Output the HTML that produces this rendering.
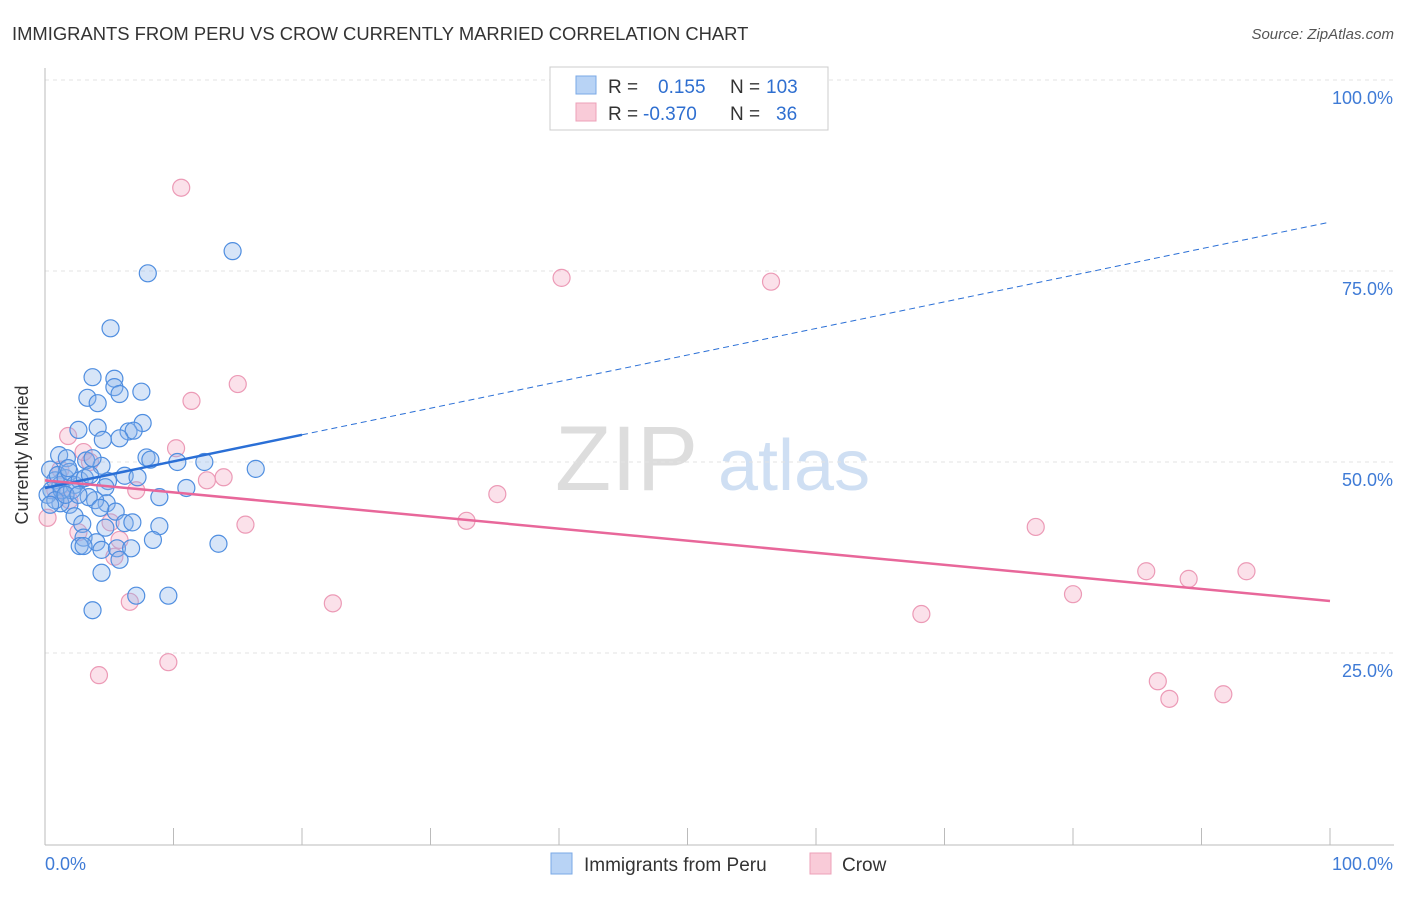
<!DOCTYPE html>
<html><head><meta charset="utf-8"><style>
body{margin:0;background:#fff;font-family:"Liberation Sans",sans-serif;}
svg text{font-family:"Liberation Sans",sans-serif;}
</style></head><body>
<svg id="chart" width="1406" height="892">
<text x="12" y="40" font-size="18.4" fill="#333">IMMIGRANTS FROM PERU VS CROW CURRENTLY MARRIED CORRELATION CHART</text>
<text x="1394" y="39" font-size="15" fill="#555" font-style="italic" text-anchor="end">Source: ZipAtlas.com</text>
<text x="28" y="455" font-size="18" fill="#333" text-anchor="middle" transform="rotate(-90 28 455)">Currently Married</text>
<g><text x="555" y="490" font-size="92" fill="#ddd" font-family="Liberation Serif,serif">ZIP</text><text x="718" y="490" font-size="72" fill="#cfdff3">atlas</text></g>
<g id="grid"></g><g id="axes"></g><g id="pts"></g><g id="trend"></g>
<g>
<rect x="550" y="67" width="278" height="63" fill="#fff" stroke="#ccc"/>
<rect x="576" y="76" width="20" height="18" fill="#b8d3f5" stroke="#7aa8e6"/>
<rect x="576" y="103" width="20" height="18" fill="#f9cbd8" stroke="#eda0b8"/>
<text x="608" y="93" font-size="19" fill="#333">R =</text><text x="658" y="93" font-size="19" fill="#2f6fd0">0.155</text>
<text x="730" y="93" font-size="19" fill="#333">N =</text><text x="766" y="93" font-size="19" fill="#2f6fd0">103</text>
<text x="608" y="120" font-size="19" fill="#333">R =</text><text x="643" y="120" font-size="19" fill="#2f6fd0">-0.370</text>
<text x="730" y="120" font-size="19" fill="#333">N =</text><text x="776" y="120" font-size="19" fill="#2f6fd0">36</text>
</g>
<g>
<rect x="551" y="853" width="21" height="21" fill="#b8d3f5" stroke="#7aa8e6"/>
<text x="584" y="871" font-size="19" fill="#333">Immigrants from Peru</text>
<rect x="810" y="853" width="21" height="21" fill="#f9cbd8" stroke="#eda0b8"/>
<text x="842" y="871" font-size="19" fill="#333">Crow</text>
</g>
</svg>
<script>
const yTicks=[25,50,75,100];
const yTickLabels=["25.0%","50.0%","75.0%","100.0%"];
const blueX=[14.6,8.0,5.1,3.7,5.4,5.4,7.5,3.3,5.8,4.1,7.6,2.6,4.1,6.5,6.9,5.8,4.5,7.9,8.2,10.3,12.4,16.4,4.4,1.1,1.7,3.2,3.7,6.2,7.2,11.0,8.9,4.9,4.7,4.8,3.9,3.4,1.9,1.2,5.5,4.3,2.3,2.9,6.2,6.8,8.9,4.7,3.0,4.0,8.4,13.5,2.7,3.0,4.4,5.6,6.7,5.8,4.4,7.1,9.6,3.7,0.4,0.8,1.2,0.5,1.0,1.6,1.9,0.2,1.3,2.3,2.7,1.8,3.1,3.5,0.8,2.1,1.6,0.4,2.6];
const blueY=[77.6,74.7,67.5,61.1,60.9,59.8,59.2,58.4,58.9,57.7,55.1,54.2,54.5,54.0,54.1,53.1,52.9,50.6,50.3,50.0,50.0,49.1,49.5,50.9,50.5,50.2,50.5,48.2,48.0,46.6,45.4,47.5,46.7,44.6,45.0,45.4,44.4,44.6,43.5,44.0,42.9,41.9,42.0,42.1,41.6,41.4,40.1,39.5,39.8,39.3,39.0,39.0,38.5,38.7,38.7,37.2,35.5,32.5,32.5,30.6,49.0,47.6,47.0,46.3,48.3,47.9,48.7,45.7,46.3,47.0,47.6,49.2,47.9,48.3,45.0,46.3,45.7,44.4,45.7];
const pinkX=[10.6,40.2,56.5,15.0,11.4,1.8,10.2,3.0,3.5,13.9,12.6,7.1,35.2,32.8,15.6,77.1,5.1,2.6,5.8,0.2,85.7,93.5,89.0,80.0,22.4,6.6,68.2,9.6,4.2,86.6,91.7,87.5,5.4,1.2,0.8,1.9];
const pinkY=[85.9,74.1,73.6,60.2,58.0,53.4,51.8,51.3,50.0,48.0,47.6,46.3,45.8,42.3,41.8,41.5,42.1,40.8,39.8,42.7,35.7,35.7,34.7,32.7,31.5,31.7,30.1,23.8,22.1,21.3,19.6,19.0,37.6,49.0,46.3,45.0];
const blueTrend=[46.6,81.4]; // y at x=0 and x=100
const pinkTrend=[47.6,31.8];
const blueSolidEnd=20;
const NS="http://www.w3.org/2000/svg";
const X=v=>45+v*12.85, Y=v=>844-v*7.64;
function mk(tag,attrs,parent){const e=document.createElementNS(NS,tag);for(const k in attrs)e.setAttribute(k,attrs[k]);document.getElementById(parent).appendChild(e);return e;}
yTicks.forEach((t,i)=>{
 const g=mk('line',{x1:45,x2:1394,y1:Y(t),y2:Y(t),stroke:'#e3e3e3','stroke-dasharray':'4,4'},'grid');
 
 
 const l=mk('text',{x:1393,y:Y(t)+24,'font-size':18,fill:'#3f7bd6','text-anchor':'end'},'axes');
 l.textContent=yTickLabels[i];
 
 
});
const ya=mk('line',{x1:45,x2:45,y1:68,y2:845,stroke:'#bbb'},'axes');


const xa=mk('line',{x1:45,x2:1394,y1:845,y2:845,stroke:'#bbb'},'axes');


for(let i=1;i<=10;i++){const t=mk('line',{x1:X(i*10),x2:X(i*10),y1:828,y2:845,stroke:'#bbb'},'axes');
 
 }
[["0.0%",45,'start'],["100.0%",1393,'end']].forEach(a=>{const t=mk('text',{x:a[1],y:870,'font-size':18,fill:'#3f7bd6','text-anchor':a[2]},'axes');t.textContent=a[0];
 
 });
pinkX.forEach((v,i)=>{const c=mk('circle',{cx:X(v),cy:Y(pinkY[i]),r:8.5,fill:'rgba(244,170,195,0.35)',stroke:'#ec9ab6','stroke-width':1.2},'pts');
 
 });
blueX.forEach((v,i)=>{const c=mk('circle',{cx:X(v),cy:Y(blueY[i]),r:8.5,fill:'rgba(140,180,235,0.35)',stroke:'#4f8ee0','stroke-width':1.2},'pts');
 
 });
const by=x=>blueTrend[0]+(blueTrend[1]-blueTrend[0])*x/100;
let l1=mk('line',{x1:X(0),y1:Y(by(0)),x2:X(blueSolidEnd),y2:Y(by(blueSolidEnd)),stroke:'#2a6fd6','stroke-width':2.5},'trend');


let l2=mk('line',{x1:X(blueSolidEnd),y1:Y(by(blueSolidEnd)),x2:X(100),y2:Y(by(100)),stroke:'#2a6fd6','stroke-width':1,'stroke-dasharray':'6,4'},'trend');


let l3=mk('line',{x1:X(0),y1:Y(pinkTrend[0]),x2:X(100),y2:Y(pinkTrend[1]),stroke:'#e8679a','stroke-width':2.5},'trend');


</script>
</body></html>
